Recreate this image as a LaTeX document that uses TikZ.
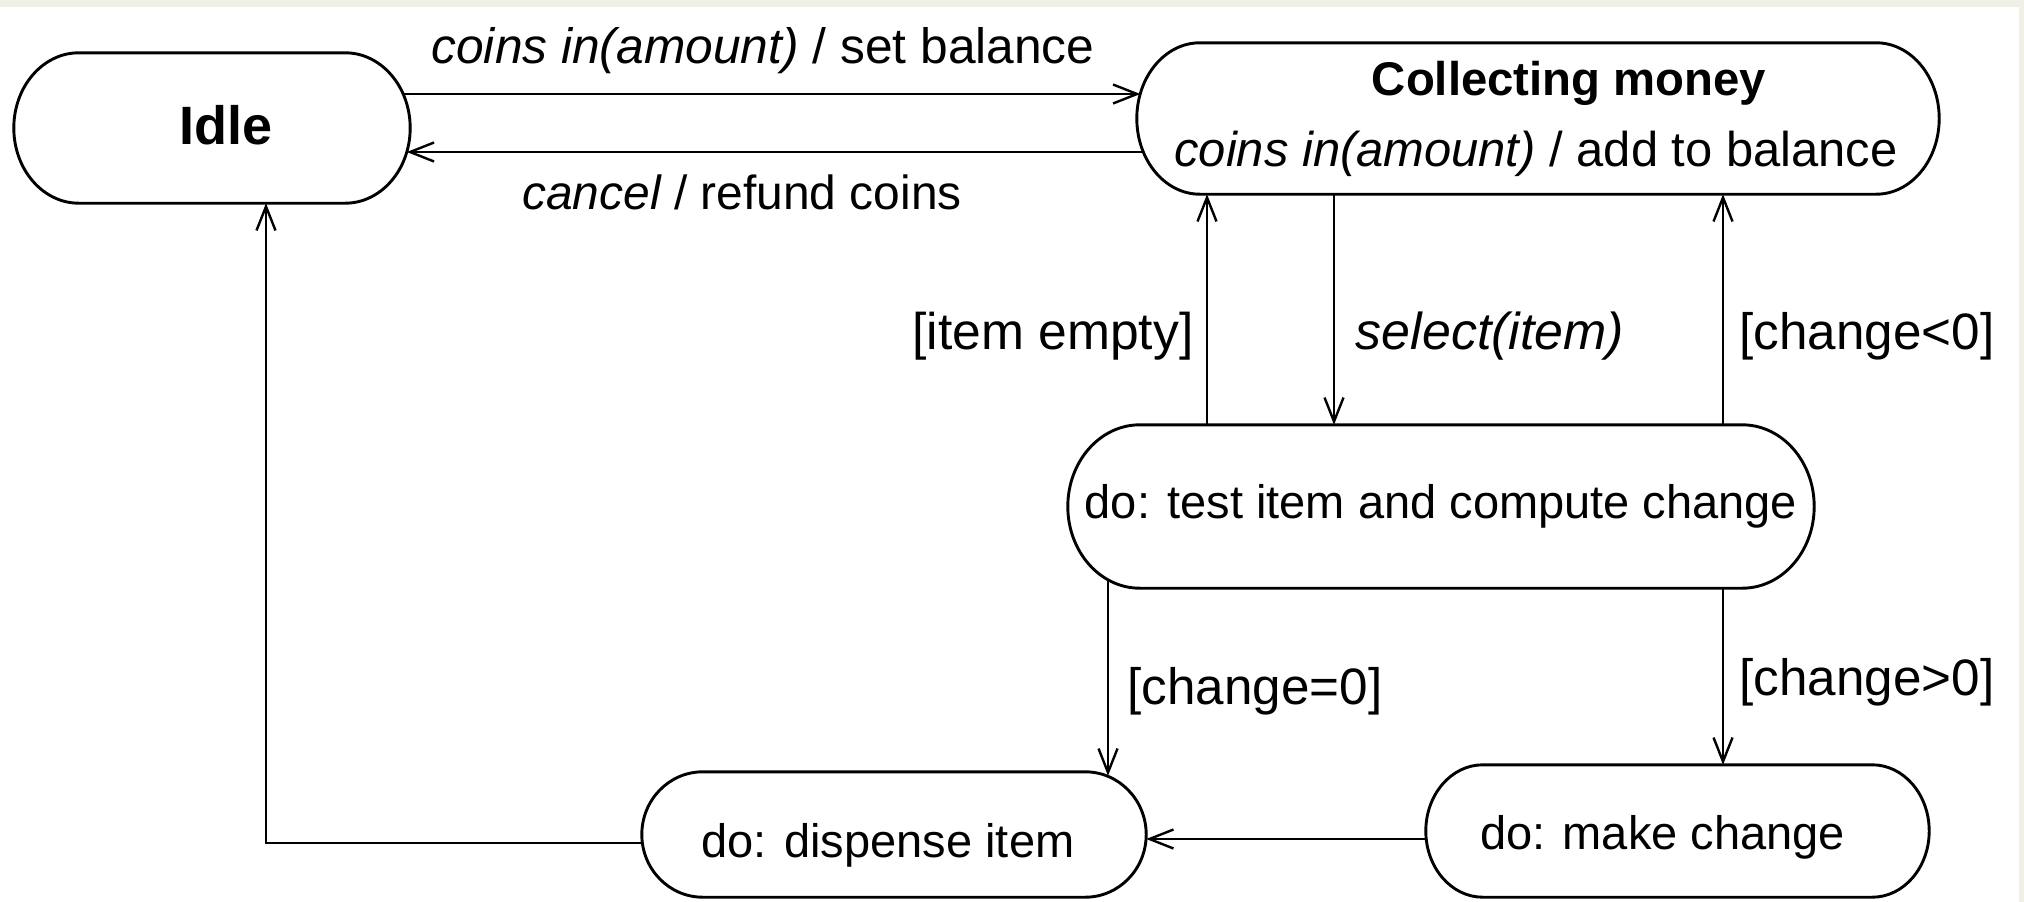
\documentclass[tikz,border=0pt]{standalone}
\usepackage{fontspec}
\setmainfont{Liberation Sans}
\usetikzlibrary{arrows.meta,calc}
\definecolor{paper}{RGB}{240,240,230}
\tikzset{
  outl/.style={line width=2.9pt, line join=round},
  st/.style={inner sep=0pt},
  lab/.style={inner sep=0pt, font=\fontsize{#1}{#1}\selectfont},
  arr/.style={line width=2.5pt, -{Straight Barb[length=24pt,width=19pt,line width=2.4pt]}},
}
% outline with elliptical ends: #1 node name, #2 horizontal radius
\newcommand\stadiumoutline[2]{%
  \draw[outl] let \p1=(#1.north west), \p2=(#1.south east), \n1={(\y1-\y2)/2} in
    (\x1+#2pt,\y1) -- (\x2-#2pt,\y1)
    arc[start angle=90, end angle=-90, x radius=#2pt, y radius=\n1]
    -- (\x1+#2pt,\y2)
    arc[start angle=270, end angle=90, x radius=#2pt, y radius=\n1] -- cycle;}
\begin{document}
\begin{tikzpicture}[x=1pt,y=1pt]
\useasboundingbox (0,0) rectangle (2024,-902);
\fill[white] (0,0) rectangle (2024,-902);
\fill[paper] (0,0) rectangle (2024,-7);
\fill[paper] (2019,0) rectangle (2024,-902);

% states
\node[st, minimum width=396pt, minimum height=150pt] (idle) at (212,-128) {};
\node[st, minimum width=802pt, minimum height=151pt] (coll) at (1538,-118.5) {};
\node[st, minimum width=746pt, minimum height=163pt] (test) at (1441,-506.5) {};
\node[st, minimum width=504pt, minimum height=125pt] (disp) at (894,-834.5) {};
\node[st, minimum width=503pt, minimum height=132pt] (make) at (1677.5,-831) {};

\stadiumoutline{idle}{65}
\stadiumoutline{coll}{63}
\stadiumoutline{test}{72}
\stadiumoutline{disp}{61}
\stadiumoutline{make}{57}

% state texts
\node[lab=54] (idletext) at (226,-125) {\bfseries Idle};
\node[lab=47.3] (colltitle) at (1569,-83) {\bfseries Collecting money};
\node[lab=48.9] (collact) at (1536,-154) {\itshape coins in(amount)\upshape{} / add to balance};
\node[lab=47] (testtext) at (1441,-506.5) {do: test item and compute change};
\node[lab=47] (disptext) at (888,-845) {do: dispense item};
\node[lab=47] (maketext) at (1662.5,-837) {do: make change};

% transitions
\draw[arr] ([xshift=-7pt,yshift=34pt]idle.east) -- ([xshift=3.5pt,yshift=24.5pt]coll.west);
\draw[arr] ([xshift=6.75pt,yshift=-33.5pt]coll.west) -- ([xshift=-3.4pt,yshift=-24pt]idle.east);
\draw[arr] (test.north -| 1207,0) -- (coll.south -| 1207,0);
\draw[arr] (coll.south -| 1334,0) -- (test.north -| 1334,0);
\draw[arr] (test.north -| 1723,0) -- (coll.south -| 1723,0);
\draw[arr] ($(test.south -| 1108,0)+(0,8.5)$) -- ($(disp.north -| 1108,0)+(0,-4)$);
\draw[arr] (test.south -| 1723,0) -- (make.north -| 1723,0);
\draw[arr] (make.west |- 0,-839) -- (disp.east |- 0,-839);
\draw[arr] (disp.west |- 0,-843) -| (idle.south -| 266,0);

% labels
\node[lab=49.7] (l1) at (763,-51) {\itshape coins in(amount)\upshape{} / set balance};
\node[lab=47.9] (l2) at (742,-192) {\itshape cancel\upshape{} / refund coins};
\node[lab=51.6] (l3) at (1053,-336) {[item empty]};
\node[lab=51.9] (l4) at (1490,-336) {\itshape select(item)};
\node[lab=51.2] (l5) at (1867,-336) {[change<0]};
\node[lab=51.2] (l6) at (1255,-691) {[change=0]};
\node[lab=51.2] (l7) at (1867,-682) {[change>0]};
\end{tikzpicture}
\end{document}
